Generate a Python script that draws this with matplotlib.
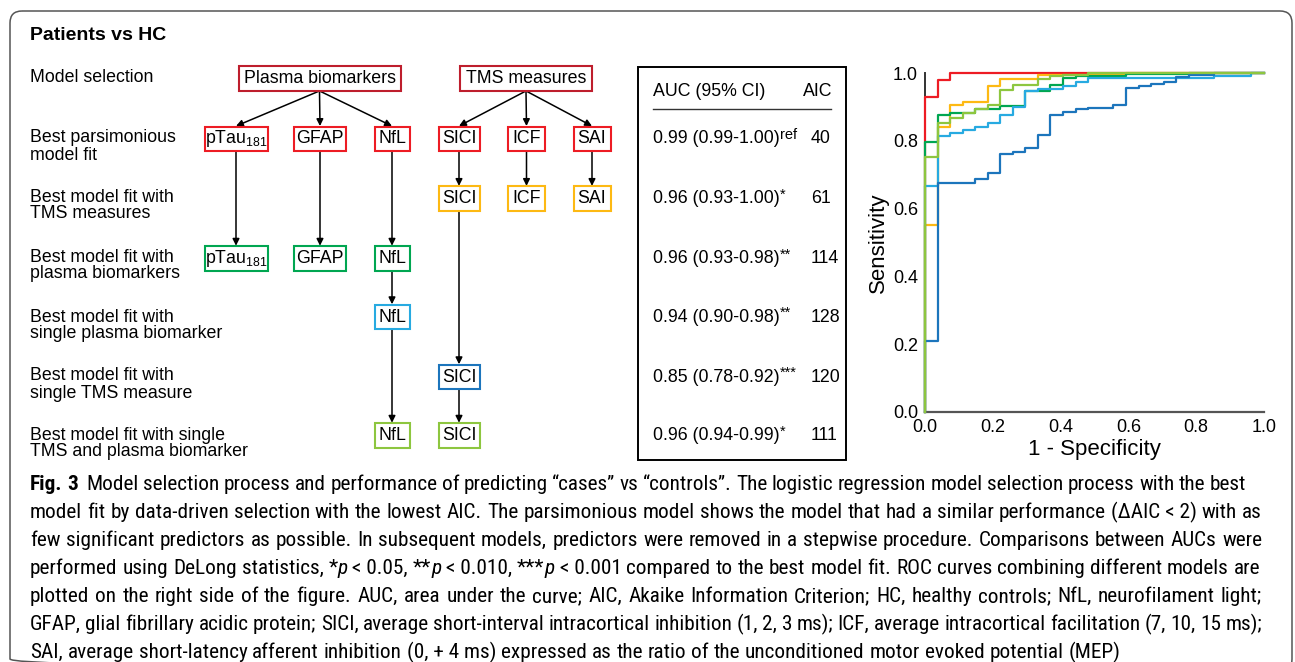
import matplotlib.pyplot as plt
from matplotlib import font_manager
from matplotlib.patches import Rectangle, FancyBboxPatch

plt.rcParams['font.family'] = ['Liberation Sans', 'DejaVu Sans']
plt.rcParams['mathtext.fontset'] = 'custom'
plt.rcParams['mathtext.rm'] = 'Liberation Sans'
plt.rcParams['mathtext.it'] = 'Liberation Sans:italic'

# ---- data ----
title = "Patients vs HC"
row_labels = [["Model selection"],
              ["Best parsimonious", "model fit"],
              ["Best model fit with", "TMS measures"],
              ["Best model fit with", "plasma biomarkers"],
              ["Best model fit with", "single plasma biomarker"],
              ["Best model fit with", "single TMS measure"],
              ["Best model fit with single", "TMS and plasma biomarker"]]
top_nodes = ["Plasma biomarkers", "TMS measures"]
top_children = [[0, 1, 2], [3, 4, 5]]
predictors = [r"pTau$_{\mathregular{181}}$", "GFAP", "NfL", "SICI", "ICF", "SAI"]
# predictors kept in each model (index into predictors)
model_rows = [[0, 1, 2, 3, 4, 5], [3, 4, 5], [0, 1, 2], [2], [3], [2, 3]]
auc_head = ["AUC (95% CI)", "AIC"]
auc_text = ["0.99 (0.99-1.00)", "0.96 (0.93-1.00)", "0.96 (0.93-0.98)",
            "0.94 (0.90-0.98)", "0.85 (0.78-0.92)", "0.96 (0.94-0.99)"]
auc_mark = ["ref", "*", "**", "**", "***", "*"]
aic = [40, 61, 114, 128, 120, 111]

# ROC curves (1 - specificity, sensitivity), one per model row
roc_fpr = [
    [0, 0, 0.037, 0.037, 0.074, 0.074, 1],
    [0, 0, 0.037, 0.037, 0.074, 0.074, 0.111, 0.111, 0.185, 0.185, 0.222, 0.222,
     0.333, 0.333, 0.593, 0.593, 1],
    [0, 0, 0.037, 0.037, 0.074, 0.074, 0.148, 0.148, 0.222, 0.222, 0.296, 0.296,
     0.370, 0.370, 0.407, 0.407, 0.444, 0.444, 0.593, 0.593, 0.778, 0.778, 1],
    [0, 0, 0.037, 0.037, 0.074, 0.074, 0.111, 0.111, 0.148, 0.148, 0.185, 0.185,
     0.222, 0.222, 0.259, 0.259, 0.296, 0.296, 0.333, 0.333, 0.407, 0.407, 0.444,
     0.444, 0.481, 0.481, 0.852, 0.852, 0.963, 0.963, 1],
    [0, 0, 0.037, 0.037, 0.148, 0.148, 0.185, 0.185, 0.222, 0.222, 0.259, 0.259,
     0.296, 0.296, 0.333, 0.333, 0.370, 0.370, 0.407, 0.407, 0.444, 0.444, 0.481,
     0.481, 0.556, 0.556, 0.593, 0.593, 0.630, 0.630, 0.667, 0.667, 0.704, 0.704,
     0.741, 0.741, 0.778, 0.778, 0.852, 0.852, 1],
    [0, 0, 0.037, 0.037, 0.074, 0.074, 0.111, 0.111, 0.148, 0.148, 0.185, 0.185,
     0.222, 0.222, 0.259, 0.259, 0.333, 0.333, 0.370, 0.370, 0.407, 0.407, 0.481,
     0.481, 1],
]
roc_tpr = [
    [0, 0.93, 0.93, 0.98, 0.98, 1, 1],
    [0, 0.553, 0.553, 0.842, 0.842, 0.905, 0.905, 0.915, 0.915, 0.962, 0.962, 0.982,
     0.982, 0.994, 0.994, 1, 1],
    [0, 0.797, 0.797, 0.875, 0.875, 0.882, 0.882, 0.893, 0.893, 0.903, 0.903, 0.947,
     0.947, 0.966, 0.966, 0.984, 0.984, 0.992, 0.992, 0.996, 0.996, 1, 1],
    [0, 0.666, 0.666, 0.813, 0.813, 0.823, 0.823, 0.831, 0.831, 0.841, 0.841, 0.853,
     0.853, 0.875, 0.875, 0.9, 0.9, 0.947, 0.947, 0.954, 0.954, 0.961, 0.961,
     0.974, 0.974, 0.986, 0.986, 0.991, 0.991, 1, 1],
    [0, 0.208, 0.208, 0.676, 0.676, 0.688, 0.688, 0.706, 0.706, 0.762, 0.762, 0.768,
     0.768, 0.779, 0.779, 0.818, 0.818, 0.877, 0.877, 0.886, 0.886, 0.893, 0.893,
     0.898, 0.898, 0.906, 0.906, 0.955, 0.955, 0.962, 0.962, 0.968, 0.968, 0.973,
     0.973, 0.989, 0.989, 0.994, 0.994, 1, 1],
    [0, 0.753, 0.753, 0.853, 0.853, 0.868, 0.868, 0.882, 0.882, 0.895, 0.895, 0.905,
     0.905, 0.949, 0.949, 0.964, 0.964, 0.981, 0.981, 0.99, 0.99, 0.995, 0.995,
     1, 1],
]
roc_ticks = [0.0, 0.2, 0.4, 0.6, 0.8, 1.0]

caption = [
    [("Fig. 3", "b"), ("  Model selection process and performance of predicting \u201ccases\u201d vs "
                       "\u201ccontrols\u201d. The logistic regression model selection process with the best", "n")],
    [("model fit by data-driven selection with the lowest AIC. The parsimonious model shows the model "
      "that had a similar performance (\u0394AIC\u00a0<\u00a02) with as", "n")],
    [("few significant predictors as possible. In subsequent models, predictors were removed in a "
      "stepwise procedure. Comparisons between AUCs were", "n")],
    [("performed using DeLong statistics, *", "n"), ("p", "i"), ("\u00a0<\u00a00.05, **", "n"), ("p", "i"),
     ("\u00a0<\u00a00.010, ***", "n"), ("p", "i"),
     ("\u00a0<\u00a00.001 compared to the best model fit. ROC curves combining different models are", "n")],
    [("plotted on the right side of the figure. AUC, area under the curve; AIC, Akaike Information "
      "Criterion; HC, healthy controls; NfL, neurofilament light;", "n")],
    [("GFAP, glial fibrillary acidic protein; SICI, average short-interval intracortical inhibition "
      "(1, 2, 3 ms); ICF, average intracortical facilitation (7, 10, 15 ms);", "n")],
    [("SAI, average short-latency afferent inhibition (0,\u00a0+\u00a04\u00a0ms) expressed as the ratio "
      "of the unconditioned motor evoked potential (MEP)", "n")],
]

# ---- styles / layout ----
top_color = '#be1e2d'
row_colors = ['#ed1c24', '#fdb913', '#00a651', '#27aae1', '#1c75bc', '#8dc63f']
col_x = [236, 320, 392, 459, 526.5, 592]
col_w = [63, 52, 35, 41, 37, 37]
top_x = [319.5, 526]
top_w = [162, 132]
top_y = 78.7
row_y = [138.8, 198.7, 258.5, 317, 377, 435.5]
label_y = [78, 138, 197, 257, 317, 376, 435]
box_h = 24.5
fs = 12.8

W, H = 1295, 662
fig = plt.figure(figsize=(W / 100, H / 100), dpi=100)
ax = fig.add_axes([0, 0, 1, 1])
ax.set_xlim(0, W)
ax.set_ylim(H, 0)
ax.axis('off')
renderer = fig.canvas.get_renderer()


def text_w(s, **kw):
    a = ax.text(0, 0, '|' + s + '|', **kw)
    b = ax.text(0, 0, '||', **kw)
    w = a.get_window_extent(renderer).width - b.get_window_extent(renderer).width
    a.remove()
    b.remove()
    return w


# outer frame
ax.add_patch(FancyBboxPatch((10, 11), 1282, 660, boxstyle="round,pad=0,rounding_size=12",
                            fc='none', ec='#555555', lw=1.1))
ax.text(30, 35, title, fontsize=14, weight='bold', va='center')

for y, lines in zip(label_y, row_labels):
    for k, s in enumerate(lines):
        ax.text(30, y + 17 * k, s, fontsize=fs, va='center')


def box(cx, cy, w, s, color):
    ax.add_patch(Rectangle((cx - w / 2, cy - box_h / 2), w, box_h, fc='white', ec=color,
                           lw=1.5, zorder=3))
    ax.text(cx, cy, s, fontsize=fs, ha='center', va='center', zorder=4)


def arrow(x0, y0, x1, y1):
    ax.annotate('', xy=(x1, y1), xytext=(x0, y0),
                arrowprops=dict(arrowstyle='-|>', mutation_scale=10, lw=1.1, color='black',
                                shrinkA=0, shrinkB=0), zorder=2)


for k, name in enumerate(top_nodes):
    box(top_x[k], top_y, top_w[k], name, top_color)
    for c in top_children[k]:
        arrow(top_x[k], top_y + box_h / 2, col_x[c], row_y[0] - box_h / 2 - 0.5)

last_row = {}
for r, cols in enumerate(model_rows):
    for c in cols:
        box(col_x[c], row_y[r], col_w[c], predictors[c], row_colors[r])
        if c in last_row:
            arrow(col_x[c], row_y[last_row[c]] + box_h / 2, col_x[c], row_y[r] - box_h / 2 - 0.5)
        last_row[c] = r

# table
ax.add_patch(Rectangle((638, 67), 208, 393, fc='none', ec='black', lw=1.4))
ax.text(653, 91, auc_head[0], fontsize=fs, va='center')
ax.text(803, 91, auc_head[1], fontsize=fs, va='center')
ax.plot([653, 831], [109, 109], color='#333333', lw=1)
for y, s, m, a in zip(row_y, auc_text, auc_mark, aic):
    ax.text(653, y, s, fontsize=fs, va='center')
    ax.text(653 + text_w(s, fontsize=fs), y - 4, m, fontsize=10.5, va='center')
    ax.text(811, y, str(a), fontsize=fs, va='center')

# ROC plot
rax = fig.add_axes([925 / W, 1 - 412 / H, 339 / W, 339 / H])
for k in [0, 1, 4, 3, 2, 5]:
    rax.plot(roc_fpr[k], roc_tpr[k], color=row_colors[k], lw=1.6, clip_on=False,
             zorder=3 + k)
rax.set_xlim(0, 1)
rax.set_ylim(0, 1)
rax.set_xticks(roc_ticks)
rax.set_yticks(roc_ticks)
rax.set_xticklabels(['%.1f' % t for t in roc_ticks])
rax.set_yticklabels(['%.1f' % t for t in roc_ticks])
rax.tick_params(length=0, labelsize=13, pad=5)
for s in ['top', 'right']:
    rax.spines[s].set_visible(False)
rax.spines['left'].set_color('#333333')
rax.spines['bottom'].set_color('#555555')
rax.spines['left'].set_linewidth(1.4)
rax.spines['bottom'].set_linewidth(1.6)
rax.set_xlabel('1 - Specificity', fontsize=16, labelpad=2)
rax.set_ylabel('Sensitivity', fontsize=16, labelpad=3)

# caption, justified
names = {f.name for f in font_manager.fontManager.ttflist}
cap_font = next((n for n in ['Roboto Condensed', 'Liberation Sans Narrow', 'Open Sans Condensed',
                             'DejaVu Sans Condensed'] if n in names), 'Open Sans')
cap_right = [1246, 1262, 1262, 1260, 1262, 1262, None]


def cap_kw(st, size):
    kw = dict(fontsize=size, family=[cap_font, 'DejaVu Sans'])
    if st == 'b':
        kw['weight'] = 'bold'
    if st == 'i':
        kw['style'] = 'italic'
    return kw


def split_words(runs):
    words = [[]]
    for s, st in runs:
        for k, p in enumerate(s.split(' ')):
            if k > 0:
                words.append([])
            if p:
                words[-1].append((p, st))
    return words


base = 10
sizes = []
for runs, right in zip(caption, cap_right):
    if right is None:
        continue
    words = split_words(runs)
    nat = sum(text_w(p, **cap_kw(st, base)) for wd in words for p, st in wd)
    nat += (len(words) - 1) * text_w(' ', **cap_kw('n', base))
    sizes.append(base * (right - 30) / nat)
cap_size = min(sizes)
space = text_w(' ', **cap_kw('n', cap_size))

for i, (runs, right) in enumerate(zip(caption, cap_right)):
    y = 490 + 28 * i
    words = split_words(runs)
    widths = [[text_w(p, **cap_kw(st, cap_size)) for p, st in wd] for wd in words]
    total = sum(sum(w) for w in widths)
    gap = space if right is None else (right - 30 - total) / (len(words) - 1)
    x = 30
    for wd, ws in zip(words, widths):
        for (p, st), w in zip(wd, ws):
            ax.text(x, y, p, va='baseline', **cap_kw(st, cap_size))
            x += w
        x += gap

fig.savefig('out.png', dpi=100)
